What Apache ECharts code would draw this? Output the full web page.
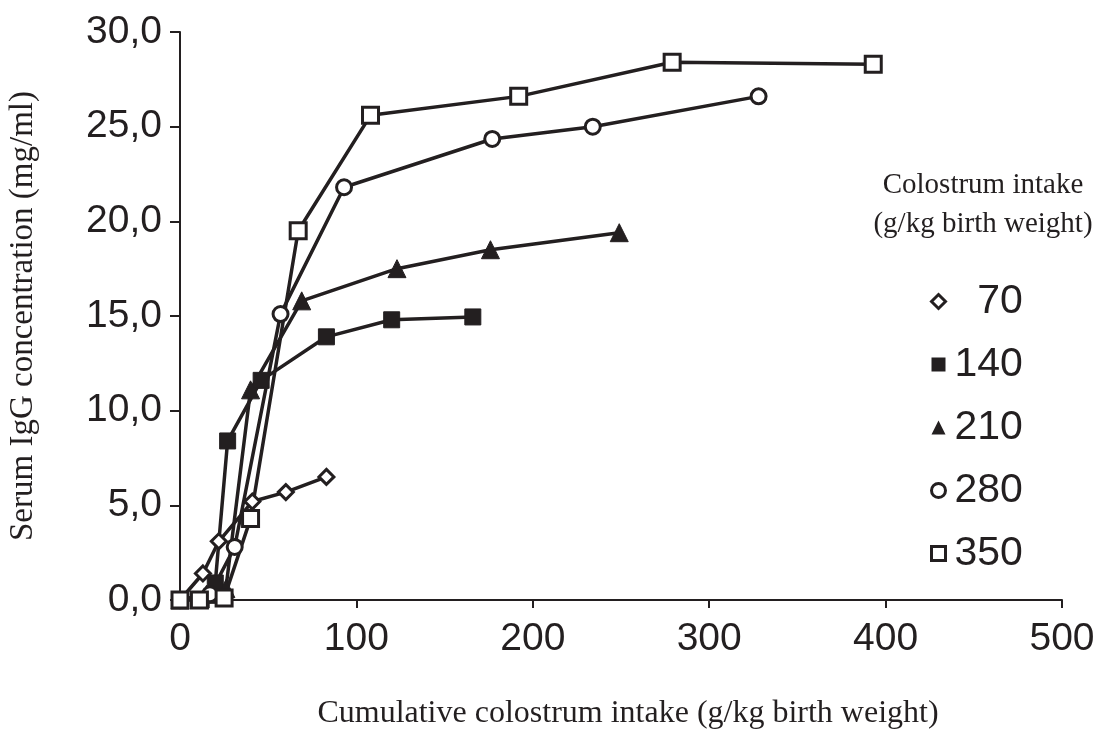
<!DOCTYPE html>
<html>
<head>
<meta charset="utf-8">
<script src="https://cdn.jsdelivr.net/npm/echarts@6/dist/echarts.min.js"></script>
<style>
  html, body { margin: 0; padding: 0; background: #ffffff; }
  #chart { width: 1105px; height: 731px; }
</style>
</head>
<body>
<div id="chart"></div>
<script>
// Serum IgG concentration versus cumulative colostrum intake,
// one curve per total colostrum intake group (g/kg birth weight).
const groupNames = ['70', '140', '210', '280', '350'];

const intake70 = [[0, 0], [13, 1.4], [22, 3.1], [41, 5.2], [60, 5.7], [83, 6.5]];
const intake140 = [[0, 0], [12, 0], [20, 0.9], [27, 8.4], [46, 11.6], [83, 13.9], [120, 14.8], [166, 14.95]];
const intake210 = [[0, 0], [15, 0.3], [26, 0.6], [40, 11.1], [69, 15.8], [123, 17.5], [176, 18.5], [249, 19.4]];
const intake280 = [[0, 0], [17, 0.3], [31, 2.8], [57, 15.1], [93, 21.8], [177, 24.35], [234, 25.0], [328, 26.6]];
const intake350 = [[0, 0], [11, 0], [25, 0.1], [40, 4.3], [67, 19.5], [108, 25.6], [192, 26.6], [279, 28.4], [393, 28.3]];

const xTicks = [0, 100, 200, 300, 400, 500];
const yTicks = [0, 5, 10, 15, 20, 25, 30];

const INK = '#231f20';
const SANS = '"Liberation Sans", Arial, sans-serif';
const SERIF = '"Liberation Serif", "Times New Roman", serif';

// marker look per group: shape, size, open (white fill) or filled
const markerStyles = {
  '70':  { symbol: 'diamond', size: 15, open: true },
  '140': { symbol: 'rect', size: 16, open: false },
  '210': { symbol: 'triangle', size: 18, open: false },
  '280': { symbol: 'circle', size: 15, open: true },
  '350': { symbol: 'rect', size: 16, open: true }
};
const groupData = { '70': intake70, '140': intake140, '210': intake210, '280': intake280, '350': intake350 };

function makeSeries(name) {
  const m = markerStyles[name];
  return {
    name: name,
    type: 'line',
    data: groupData[name],
    symbol: m.symbol,
    symbolSize: m.size,
    showAllSymbol: true,
    lineStyle: { color: INK, width: 3.5 },
    itemStyle: m.open
      ? { color: '#ffffff', borderColor: INK, borderWidth: 3 }
      : { color: INK, borderColor: INK, borderWidth: 1 },
    emphasis: { disabled: true },
    animation: false
  };
}

const chart = echarts.init(document.getElementById('chart'), null, { renderer: 'canvas' });

chart.setOption({
  backgroundColor: '#ffffff',
  animation: false,
  grid: { left: 180, right: 43, top: 32, bottom: 131, containLabel: false, outerBoundsMode: 'none' },
  title: {
    text: 'Colostrum intake\n(g/kg birth weight)',
    left: 978,
    top: 161,
    textAlign: 'center',
    textStyle: { fontFamily: SERIF, fontSize: 29, fontWeight: 'normal', color: INK, lineHeight: 39 }
  },
  legend: {
    orient: 'vertical',
    left: 925,
    top: 276,
    itemGap: 22,
    itemWidth: 14,
    itemHeight: 14,
    selectedMode: false,
    data: groupNames.map(n => ({
      name: n,
      icon: markerStyles[n].symbol,
      itemStyle: markerStyles[n].open
        ? { color: '#ffffff', borderColor: INK, borderWidth: 3 }
        : { color: INK, borderColor: INK, borderWidth: 0 }
    })),
    formatter: n => (n === '70' ? '  ' + n : n),
    textStyle: { fontFamily: SANS, fontSize: 41, color: INK, padding: [0, 0, 0, 4] }
  },
  xAxis: {
    type: 'value',
    min: xTicks[0],
    max: xTicks[xTicks.length - 1],
    interval: 100,
    name: 'Cumulative colostrum intake (g/kg birth weight)',
    nameLocation: 'middle',
    nameGap: 98,
    nameTextStyle: { fontFamily: SERIF, fontSize: 32, color: INK, padding: [0, 0, 0, 14] },
    axisLine: { show: true, lineStyle: { color: INK, width: 2 } },
    axisTick: { show: true, length: 8, lineStyle: { color: INK, width: 2 } },
    axisLabel: { fontFamily: SANS, fontSize: 39, color: INK, margin: 20 },
    splitLine: { show: false }
  },
  yAxis: {
    type: 'value',
    min: yTicks[0],
    max: yTicks[yTicks.length - 1],
    interval: 5,
    name: 'Serum IgG concentration (mg/ml)',
    nameLocation: 'middle',
    nameGap: 140,
    nameRotate: 90,
    nameTextStyle: { fontFamily: SERIF, fontSize: 33, color: INK },
    axisLine: { show: true, lineStyle: { color: INK, width: 2 } },
    axisTick: { show: true, length: 10, lineStyle: { color: INK, width: 2 } },
    axisLabel: {
      fontFamily: SANS, fontSize: 39, color: INK, margin: 18,
      formatter: v => v.toFixed(1).replace('.', ',')
    },
    splitLine: { show: false }
  },
  series: groupNames.map(makeSeries)
});
</script>
</body>
</html>
